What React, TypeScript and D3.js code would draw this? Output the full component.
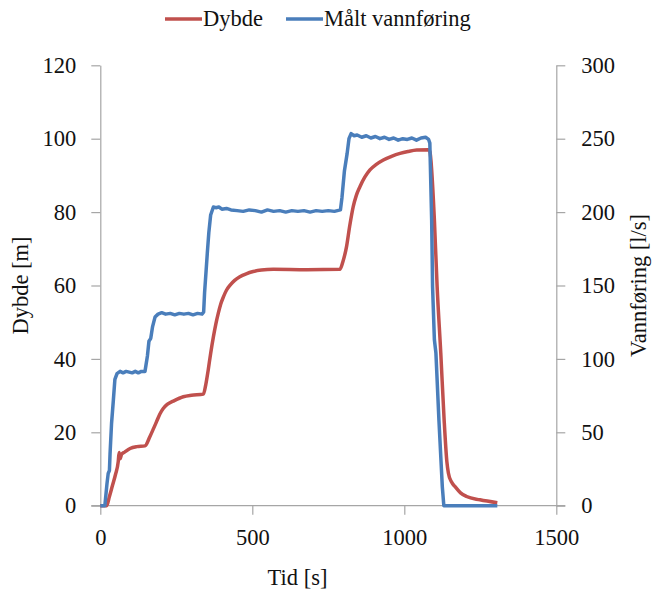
import React, { useRef, useEffect } from 'react';
import * as d3 from 'd3';

// Dybde [m] over tid [s]
const depthTime = [0, 21, 30, 40, 50, 59, 62, 65, 70, 80, 98, 120, 147, 163, 175, 185, 196, 207, 220, 240, 273, 300, 339, 347, 355, 363, 372, 380, 388, 396, 405, 415, 427, 442, 459, 480, 503, 530, 569, 679, 788, 798, 810, 820, 832, 842, 854, 870, 887, 908, 931, 958, 986, 1012, 1041, 1079, 1084, 1099, 1108, 1120, 1131, 1140, 1145, 1155, 1167, 1185, 1205, 1249, 1306];
const depthValue = [0, 0, 2.5, 5.5, 8.5, 12, 14.5, 12.8, 14, 14.6, 15.6, 16.1, 16.3, 18.8, 21, 22.9, 25, 26.5, 27.6, 28.5, 29.7, 30.1, 30.4, 33, 37, 41.5, 46, 49.5, 52.4, 54.9, 56.9, 58.7, 60.1, 61.4, 62.4, 63.2, 63.8, 64.2, 64.4, 64.3, 64.4, 66.5, 70.6, 76, 81.5, 84.5, 86.9, 89.5, 91.5, 93, 94.2, 95.2, 96, 96.5, 96.9, 97, 96.5, 77.8, 59.7, 41.6, 23.4, 12, 8.9, 6.5, 5.2, 3.5, 2.5, 1.6, 0.8];

// Målt vannføring [l/s] over tid [s]
const flowTime = [0, 15, 22, 26, 30, 32, 37, 43, 48, 55, 65, 75, 85, 95, 105, 115, 125, 135, 147, 155, 160, 166, 172, 180, 190, 202, 215, 230, 245, 260, 275, 290, 305, 320, 335, 340, 343, 348, 352, 357, 363, 372, 380, 390, 400, 415, 430, 450, 470, 490, 510, 530, 550, 570, 590, 610, 630, 650, 670, 690, 710, 730, 750, 770, 790, 795, 803, 812, 818, 825, 835, 845, 860, 875, 890, 905, 920, 935, 950, 965, 980, 995, 1010, 1025, 1040, 1055, 1070, 1080, 1084, 1090, 1093, 1099, 1104, 1114, 1125, 1130, 1306];
const flowValue = [0, 0, 15, 22, 24, 35, 56, 72, 86, 90, 91.5, 90.5, 91.5, 91, 90.5, 91.5, 90.5, 91.5, 91.5, 102, 112, 114, 122, 128.5, 130.5, 131.5, 130.5, 131, 130, 131, 130.5, 131, 130, 131, 130.5, 132, 145, 160, 172, 186, 198, 203.5, 203, 203.5, 202, 202.5, 201.5, 201, 200.5, 201.5, 201, 200, 201.5, 200.5, 201, 200, 201, 200.5, 201, 200, 201, 200.5, 201, 200.5, 201.5, 210, 228, 240, 250, 253.5, 252, 252.5, 251, 252, 250.5, 251.5, 250, 251, 249.5, 250.5, 249, 250, 249.5, 250.5, 249, 250.5, 251, 249.5, 247, 194.5, 149, 113, 104, 58, 13, 0, 0];

const xTicks = [0, 500, 1000, 1500];
const leftTicks = [0, 20, 40, 60, 80, 100, 120];
const rightTicks = [0, 50, 100, 150, 200, 250, 300];

const RED = '#C0504D';
const BLUE = '#4A7EBB';
const AXIS = '#a6a6a6';
const FONT = '"Liberation Serif"';
const FS = 22.5;

export default function App() {
  const svgRef = useRef<SVGSVGElement>(null);

  useEffect(() => {
    const svg = d3.select(svgRef.current);
    const width = 654;
    const height = 593;
    const margin = { top: 65.3, right: 97.7, bottom: 87.3, left: 100.3 };

    svg.attr('width', width).attr('height', height);
    svg.selectAll('*').remove();

    const x = d3.scaleLinear().domain([0, 1500]).range([margin.left, width - margin.right]);
    const yL = d3.scaleLinear().domain([0, 120]).range([height - margin.bottom, margin.top]);
    const yR = d3.scaleLinear().domain([0, 300]).range([height - margin.bottom, margin.top]);

    const styleAxis = (g: any) => {
      g.select('.domain').attr('stroke', AXIS).attr('stroke-width', 1.2);
      g.selectAll('.tick line').attr('stroke', AXIS).attr('stroke-width', 1.2);
      g.selectAll('.tick text').style('font-family', FONT).style('font-size', FS + 'px').attr('fill', '#111');
    };

    svg.append('g')
      .attr('transform', `translate(0,${yL(0)})`)
      .call(d3.axisBottom(x).tickValues(xTicks).tickFormat(d3.format('d')).tickSize(9).tickPadding(14).tickSizeOuter(0))
      .call(styleAxis)
      .call((g: any) => g.select('.domain').attr('d', `M${margin.left - 9},0H${width - margin.right + 9}`));

    svg.append('g')
      .attr('transform', `translate(${margin.left},0)`)
      .call(d3.axisLeft(yL).tickValues(leftTicks).tickSize(9).tickPadding(15).tickSizeOuter(0))
      .call(styleAxis);

    svg.append('g')
      .attr('transform', `translate(${width - margin.right},0)`)
      .call(d3.axisRight(yR).tickValues(rightTicks).tickSize(9).tickPadding(16).tickSizeOuter(0))
      .call(styleAxis);

    const depthLine = d3.line<number>()
      .x((_, i) => x(depthTime[i]))
      .y(d => yL(d))
      .curve(d3.curveMonotoneX);
    const flowLine = d3.line<number>()
      .x((_, i) => x(flowTime[i]))
      .y(d => yR(d));

    svg.append('path')
      .datum(depthValue)
      .attr('fill', 'none')
      .attr('stroke', RED)
      .attr('stroke-width', 3.5)
      .attr('stroke-linejoin', 'round')
      .attr('d', depthLine);

    svg.append('path')
      .datum(flowValue)
      .attr('fill', 'none')
      .attr('stroke', BLUE)
      .attr('stroke-width', 3.5)
      .attr('stroke-linejoin', 'round')
      .attr('d', flowLine);

    const txt = (sel: any) => sel.style('font-family', FONT).style('font-size', FS + 'px').attr('fill', '#111');

    // axis titles
    svg.append('text')
      .attr('transform', `translate(28,${(margin.top + height - margin.bottom) / 2}) rotate(-90)`)
      .attr('text-anchor', 'middle')
      .call(txt)
      .text('Dybde [m]');

    svg.append('text')
      .attr('transform', `translate(646,${(margin.top + height - margin.bottom) / 2}) rotate(-90)`)
      .attr('text-anchor', 'middle')
      .call(txt)
      .text('Vannføring [l/s]');

    svg.append('text')
      .attr('x', 297.5).attr('y', 585)
      .attr('text-anchor', 'middle')
      .call(txt)
      .text('Tid [s]');

    // legend
    const legend = [
      { label: 'Dybde', color: RED, x0: 165 },
      { label: 'Målt vannføring', color: BLUE, x0: 286 },
    ];
    legend.forEach(l => {
      svg.append('line')
        .attr('x1', l.x0).attr('x2', l.x0 + 37)
        .attr('y1', 19).attr('y2', 19)
        .attr('stroke', l.color).attr('stroke-width', 3.5);
      svg.append('text')
        .attr('x', l.x0 + 38).attr('y', 26)
        .call(txt)
        .text(l.label);
    });
  }, []);

  return <svg ref={svgRef} style={{ position: 'absolute', left: 0, top: 0 }} />;
}
